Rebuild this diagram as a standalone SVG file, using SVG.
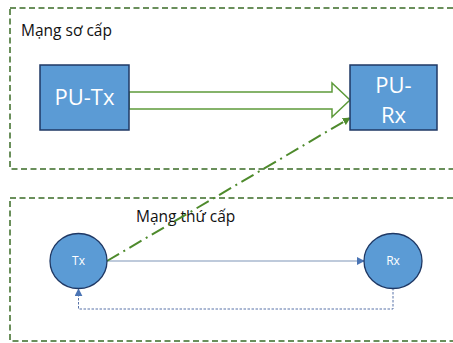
<svg xmlns="http://www.w3.org/2000/svg" width="453" height="343" viewBox="0 0 453 343">
  <defs>
    <style>
      .zone { fill: none; stroke: #3a6b26; stroke-width: 1.5; stroke-dasharray: 6 3.5; }
      .zone-label { font-family: "Open Sans", "Liberation Sans", sans-serif; font-size: 15.5px; fill: #111; }
      .pu { fill: #5b9bd5; stroke: #1f3864; stroke-width: 1.5; }
      .pu-text { font-family: "Open Sans", "Liberation Sans", sans-serif; font-size: 22px; fill: #fff; text-anchor: middle; }
      .node { fill: #5b9bd5; stroke: #1f3864; stroke-width: 1.3; }
      .node-text { font-family: "Open Sans", "Liberation Sans", sans-serif; font-size: 12px; fill: #fff; text-anchor: middle; }
      .block-arrow { fill: #fff; stroke: #5d9a3a; stroke-width: 1.5; stroke-linejoin: miter; }
      .interference { fill: none; stroke: #4e8a2c; stroke-width: 2; stroke-dasharray: 14 5 2 5; }
      .link { fill: none; stroke: #7f96b8; stroke-width: 1.2; }
      .feedback { fill: none; stroke: #5873a8; stroke-width: 1; stroke-dasharray: 2.5 1.5; }
    </style>
    <marker id="head-green" viewBox="0 0 10 10" refX="9" refY="5" markerWidth="4" markerHeight="4" orient="auto" markerUnits="strokeWidth">
      <path d="M0,0 L10,5 L0,10 Z" fill="#4e8a2c"/>
    </marker>
    <marker id="head-blue" viewBox="0 0 10 10" refX="9" refY="5" markerWidth="8" markerHeight="8" orient="auto" markerUnits="userSpaceOnUse">
      <path d="M0,0 L10,5 L0,10 Z" fill="#4a74b4"/>
    </marker>
  </defs>

  <!-- primary network zone -->
  <g id="primary-network">
    <rect class="zone" x="10" y="8" width="460" height="161"/>
    <text class="zone-label" x="21" y="36">Mạng sơ cấp</text>
  </g>

  <!-- secondary network zone -->
  <g id="secondary-network">
    <rect class="zone" x="10" y="198" width="460" height="143"/>
    <text class="zone-label" x="136" y="222">Mạng thứ cấp</text>
  </g>

  <!-- connectors -->
  <g id="connectors">
    <path class="block-arrow" d="M129,92 L332,92 L332,83 L350,100 L332,117 L332,109 L129,109 Z"/>
    <line class="link" x1="107" y1="261" x2="364" y2="261" marker-end="url(#head-blue)"/>
    <polyline class="feedback" points="393,288 393,309 78.5,309 78.5,289" marker-end="url(#head-blue)"/>
    <line class="interference" x1="107" y1="261" x2="350" y2="118" marker-end="url(#head-green)"/>
  </g>

  <g id="pu-tx">
    <rect class="pu" x="40" y="65" width="89" height="65"/>
    <text class="pu-text" x="84.5" y="105">PU-Tx</text>
  </g>

  <g id="pu-rx">
    <rect class="pu" x="350" y="65" width="87" height="65"/>
    <text class="pu-text" x="393.5" y="93">PU-</text>
    <text class="pu-text" x="393.5" y="123">Rx</text>
  </g>

  <g id="tx">
    <ellipse class="node" cx="78.5" cy="261" rx="28.5" ry="27.5"/>
    <text class="node-text" x="78.5" y="265">Tx</text>
  </g>

  <g id="rx">
    <ellipse class="node" cx="393" cy="261" rx="29" ry="27.5"/>
    <text class="node-text" x="393" y="265">Rx</text>
  </g>
</svg>
